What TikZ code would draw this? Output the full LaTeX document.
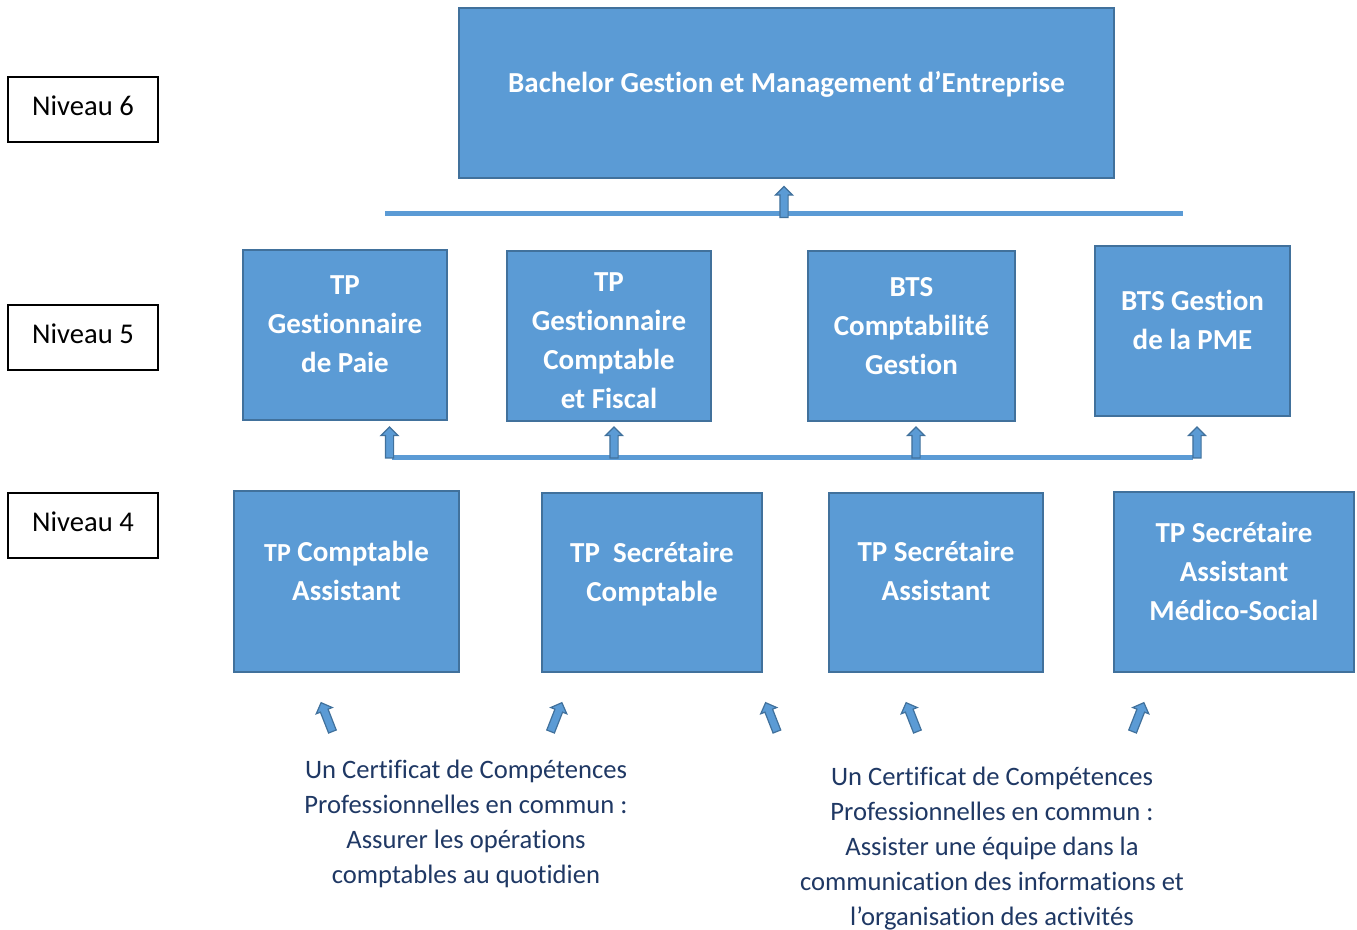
\documentclass[tikz,border=0pt]{standalone}
\usepackage{fontspec}
\setmainfont[Ligatures=NoCommon]{Carlito}
\usepackage{tikz}
\usetikzlibrary{shapes.arrows}
\definecolor{boxblue}{HTML}{5B9BD5}
\definecolor{boxedge}{HTML}{41719C}
\definecolor{notetext}{HTML}{1F3864}

\begin{document}
\begin{tikzpicture}[x=0.5pt,y=-0.5pt]
  \tikzstyle{box}=[rectangle,draw=boxedge,fill=boxblue,line width=1.2pt,inner sep=0pt]
  \tikzstyle{boxtext}=[text=white,font=\fontsize{14.5}{19.5}\selectfont\bfseries,align=center,inner sep=0pt]
  \tikzstyle{level}=[rectangle,draw=black,line width=0.9pt,minimum width=75pt,
  minimum height=32.5pt,text height=9.2pt,text depth=3.5pt,font=\fontsize{14.3}{17}\selectfont]
  \tikzstyle{note}=[text=notetext,font=\fontsize{13.3}{17.5}\selectfont,align=center,inner sep=0pt]
  \tikzstyle{uparrow}=[single arrow,draw=boxedge,fill=boxblue,line width=0.6pt,inner sep=1.75pt,
  minimum width=8pt,minimum height=15.5pt,single arrow head extend=2.25pt]
  \tikzstyle{bar}=[draw=boxblue,line width=2.5pt]

    \useasboundingbox (0,0) rectangle (1357,930);

    % levels
    \node [level] (n6) at (83,109.5) {Niveau 6};
    \node [level] (n5) at (83,337.5) {Niveau 5};
    \node [level] (n4) at (83,525.5) {Niveau 4};

    % niveau 6
    \node [box,minimum width=327.5pt,minimum height=85pt] (bach) at (786.5,93) {};
    \node [boxtext] (bachtxt) at (786.5,84) {Bachelor Gestion et Management d’Entreprise};

    % niveau 5
    \node [box,minimum width=102pt,minimum height=85pt] (paie) at (345,335) {};
    \node [boxtext] (paietxt) at (345,324.5) {TP\\Gestionnaire\\de Paie};
    \node [box,minimum width=102pt,minimum height=85pt] (fisc) at (609,336) {};
    \node [boxtext] (fisctxt) at (609,341) {TP\\Gestionnaire\\Comptable\\et Fiscal};
    \node [box,minimum width=103.5pt,minimum height=85pt] (bcg) at (911.5,336) {};
    \node [boxtext] (bcgtxt) at (911.5,326) {BTS\\Comptabilité\\Gestion};
    \node [box,minimum width=97.5pt,minimum height=85pt] (pme) at (1192.5,331) {};
    \node [boxtext] (pmetxt) at (1192.5,320) {BTS Gestion\\de la PME};

    % niveau 4
    \node [box,minimum width=112.5pt,minimum height=90.5pt] (ca) at (346.5,581.5) {};
    \node [boxtext] (catxt) at (346.5,571) {{\fontsize{13}{19.5}\selectfont TP} Comptable\\Assistant};
    \node [box,minimum width=110pt,minimum height=89.5pt] (sc) at (652,582.5) {};
    \node [boxtext] (sctxt) at (652,574) {TP\ \ Secrétaire\\Comptable};
    \node [box,minimum width=107pt,minimum height=89.5pt] (sa) at (936,582.5) {};
    \node [boxtext] (satxt) at (936,571) {TP Secrétaire\\Assistant};
    \node [box,minimum width=120pt,minimum height=90pt] (sams) at (1234,582) {};
    \node [boxtext] (samstxt) at (1234,571.5) {TP Secrétaire\\Assistant\\Médico-Social};

    % bars and arrows
    \coordinate (t1) at (385,214);
    \coordinate (t2) at (1183,214);
    \coordinate (m1) at (392,458);
    \coordinate (m2) at (1193,458);
    \draw [bar] (t1) -- (t2);
    \draw [bar] (m1) -- (m2);
    \node [uparrow,rotate=90] (up6) at (784,204) {};
    \node [uparrow,rotate=90] (up5a) at (389.5,444.5) {};
    \node [uparrow,rotate=90] (up5b) at (614,444.5) {};
    \node [uparrow,rotate=90] (up5c) at (916,444.5) {};
    \node [uparrow,rotate=90] (up5d) at (1197,444.5) {};
    \node [uparrow,rotate=111.4] (up4a) at (327.5,719) {};
    \node [uparrow,rotate=68.6] (up4b) at (555.5,719) {};
    \node [uparrow,rotate=111.4] (up4c) at (772,719) {};
    \node [uparrow,rotate=111.4] (up4d) at (912.5,719) {};
    \node [uparrow,rotate=68.6] (up4e) at (1137.5,719) {};

    % notes
    \node [note] (ccp1) at (466,824) {Un Certificat de Compétences\\Professionnelles en commun :\\Assurer les opérations\\comptables au quotidien};
    \node [note] (ccp2) at (992,849) {Un Certificat de Compétences\\Professionnelles en commun :\\Assister une équipe dans la\\communication des informations et\\l’organisation des activités};
\end{tikzpicture}
\end{document}
